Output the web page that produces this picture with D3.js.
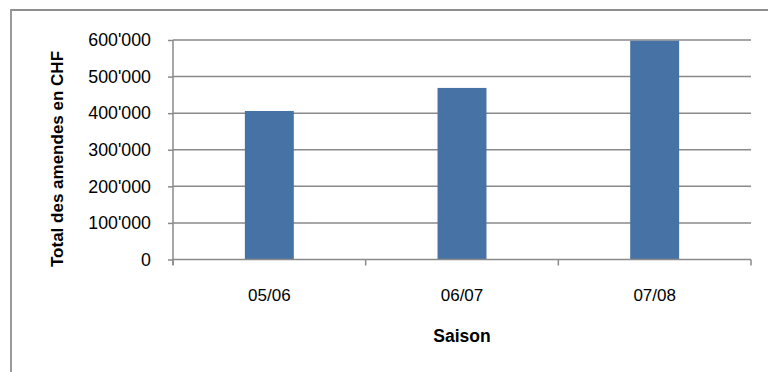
<!DOCTYPE html>
<html>
<head>
<meta charset="utf-8">
<script src="https://cdn.jsdelivr.net/npm/d3@7"></script>
<style>
  html, body { margin: 0; padding: 0; background: #fff; }
  svg { display: block; }
  text { font-family: "Liberation Sans", Arial, sans-serif; fill: #000; }
</style>
</head>
<body>
<svg id="chart" width="768" height="372"></svg>
<script>
// Seasons and total fines (CHF)
const seasons = ["05/06", "06/07", "07/08"];
const totals = [406000, 469000, 598000];
const yTicks = [0, 100000, 200000, 300000, 400000, 500000, 600000];
const yTitle = "Total des amendes en CHF";
const xTitle = "Saison";

const W = 768, H = 372;
const plot = { left: 173, right: 751, top: 40, bottom: 259.5 };
const gridColor = "#8a8a8a";
const barColor = "#4672a6";

const svg = d3.select("#chart");

// chart frame (runs off the right and bottom edges)
svg.append("path")
  .attr("d", `M11,${H + 2}V10H${W + 2}`)
  .attr("fill", "none")
  .attr("stroke", "#8f8f8f")
  .attr("stroke-width", 1.8);

const x = d3.scaleBand()
  .domain(seasons)
  .range([plot.left, plot.right])
  .paddingInner(0.746)
  .paddingOuter(0.373);

const y = d3.scaleLinear()
  .domain([0, 600000])
  .range([plot.bottom, plot.top]);

const fmt = v => d3.format(",")(v).replace(/,/g, "'");

// horizontal gridlines
svg.append("g")
  .selectAll("line")
  .data(yTicks.filter(d => d > 0))
  .join("line")
  .attr("x1", plot.left).attr("x2", plot.right)
  .attr("y1", d => y(d)).attr("y2", d => y(d))
  .attr("stroke", gridColor)
  .attr("stroke-width", 1.5);

// bars
svg.append("g")
  .selectAll("rect")
  .data(seasons.map((s, i) => ({ s, v: totals[i] })))
  .join("rect")
  .attr("x", d => x(d.s))
  .attr("width", x.bandwidth())
  .attr("y", d => y(d.v))
  .attr("height", d => y(0) - y(d.v))
  .attr("fill", barColor);

// y axis
const yAxis = svg.append("g")
  .attr("transform", `translate(${plot.left},0)`)
  .call(d3.axisLeft(y).tickValues(yTicks).tickFormat(fmt).tickSize(5).tickPadding(17));
yAxis.select(".domain")
  .attr("d", `M0,${plot.top}V${plot.bottom + 5.5}`)
  .attr("stroke", gridColor).attr("stroke-width", 1.5);
yAxis.selectAll(".tick line").attr("stroke", gridColor).attr("stroke-width", 1.5);
yAxis.selectAll(".tick text")
  .style("font-family", "'Liberation Sans', Arial, sans-serif")
  .style("font-size", "17.8px")
  .attr("fill", "#000");

// x axis: tick marks at category boundaries, labels at category centres
const xAxisG = svg.append("g").attr("transform", `translate(0,${plot.bottom})`);
xAxisG.append("line")
  .attr("x1", plot.left).attr("x2", plot.right)
  .attr("stroke", gridColor).attr("stroke-width", 1.5);
const bounds = seasons.map(s => x(s) - x.step() * x.paddingInner() / 2).concat([plot.right]);
xAxisG.selectAll("line.tk")
  .data(bounds)
  .join("line")
  .attr("class", "tk")
  .attr("x1", d => d).attr("x2", d => d)
  .attr("y1", 0).attr("y2", 6)
  .attr("stroke", gridColor).attr("stroke-width", 1.5);
xAxisG.selectAll("text")
  .data(seasons)
  .join("text")
  .attr("x", d => x(d) + x.bandwidth() / 2)
  .attr("y", 41)
  .attr("text-anchor", "middle")
  .style("font-size", "17px")
  .text(d => d);

// axis titles
svg.append("text")
  .attr("x", x(seasons[1]) + x.bandwidth() / 2)
  .attr("y", 342)
  .attr("text-anchor", "middle")
  .style("font-size", "17.5px")
  .style("font-weight", "bold")
  .text(xTitle);

svg.append("text")
  .attr("transform", "translate(62.5,159) rotate(-90)")
  .attr("text-anchor", "middle")
  .style("font-size", "17px")
  .style("font-weight", "bold")
  .text(yTitle);
</script>
</body>
</html>
